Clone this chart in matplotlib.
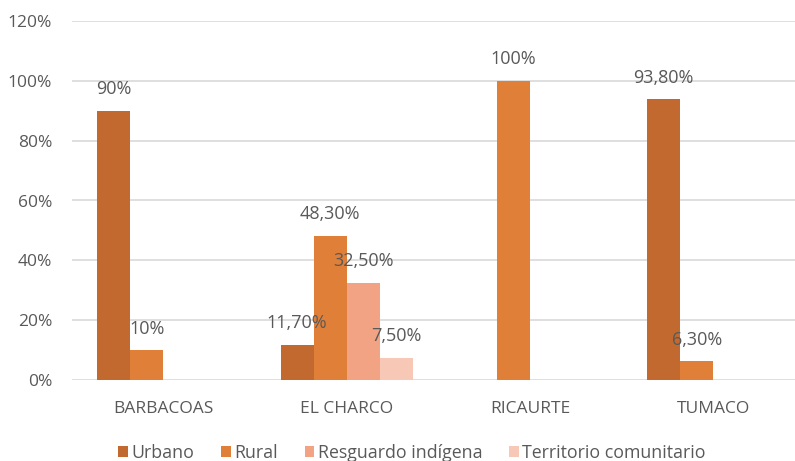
import numpy as np
import matplotlib.pyplot as plt

# datos
municipios = ["BARBACOAS", "EL CHARCO", "RICAURTE", "TUMACO"]
series = ["Urbano", "Rural", "Resguardo indígena", "Territorio comunitario"]
urbano = [90, 11.7, None, 93.8]
rural = [10, 48.3, 100, 6.3]
resguardo = [None, 32.5, None, None]
territorio = [None, 7.5, None, None]
etiquetas = {
    "Urbano": ["90%", "11,70%", "", "93,80%"],
    "Rural": ["10%", "48,30%", "100%", "6,30%"],
    "Resguardo indígena": ["", "32,50%", "", ""],
    "Territorio comunitario": ["", "7,50%", "", ""],
}
yticks = [0, 20, 40, 60, 80, 100, 120]
colores = ["#C1692E", "#E07F38", "#F2A383", "#F7C8B5"]

plt.rcParams["font.family"] = ["Open Sans", "DejaVu Sans"]
gris = "#595959"

fig = plt.figure(figsize=(7.95, 4.61), dpi=100)
ax = fig.add_axes([71.5 / 795, 81 / 461, (805 - 71.5) / 795, 359 / 461])

x = np.arange(len(municipios))
w = 0.18
valores = [urbano, rural, resguardo, territorio]
for i, (nombre, vals, col) in enumerate(zip(series, valores, colores)):
    v = [np.nan if a is None else a for a in vals]
    pos = x + (i - 1.5) * w
    ax.bar(pos, v, width=w, color=col, label=nombre, zorder=3)
    for p, val, txt in zip(pos, v, etiquetas[nombre]):
        if txt:
            ax.annotate(txt, (p, val), xytext=(0, 15.5), textcoords="offset points",
                        ha="center", va="center", fontsize=13, color=gris, zorder=4)

ax.set_xlim(-0.5, 3.5)
ax.set_ylim(0, 120)
ax.set_yticks(yticks)
ax.set_yticklabels([f"{t}%" for t in yticks], fontsize=12.5, color=gris)
ax.set_xticks(x)
ax.set_xticklabels(municipios, fontsize=12.5, color=gris)
ax.tick_params(length=0)
ax.tick_params(axis="y", pad=14)
ax.tick_params(axis="x", pad=15)
ax.grid(axis="y", color="#D9D9D9", linewidth=1.2, zorder=0)
for s in ax.spines.values():
    s.set_visible(False)

fig.legend(loc="center", bbox_to_anchor=(412 / 795, 1 - 453 / 461), ncol=4,
           frameon=False, fontsize=12.8, handlelength=0.55, handleheight=0.55,
           handletextpad=0.2, columnspacing=1.5, labelcolor=gris)

fig.savefig("out.png", dpi=100)
